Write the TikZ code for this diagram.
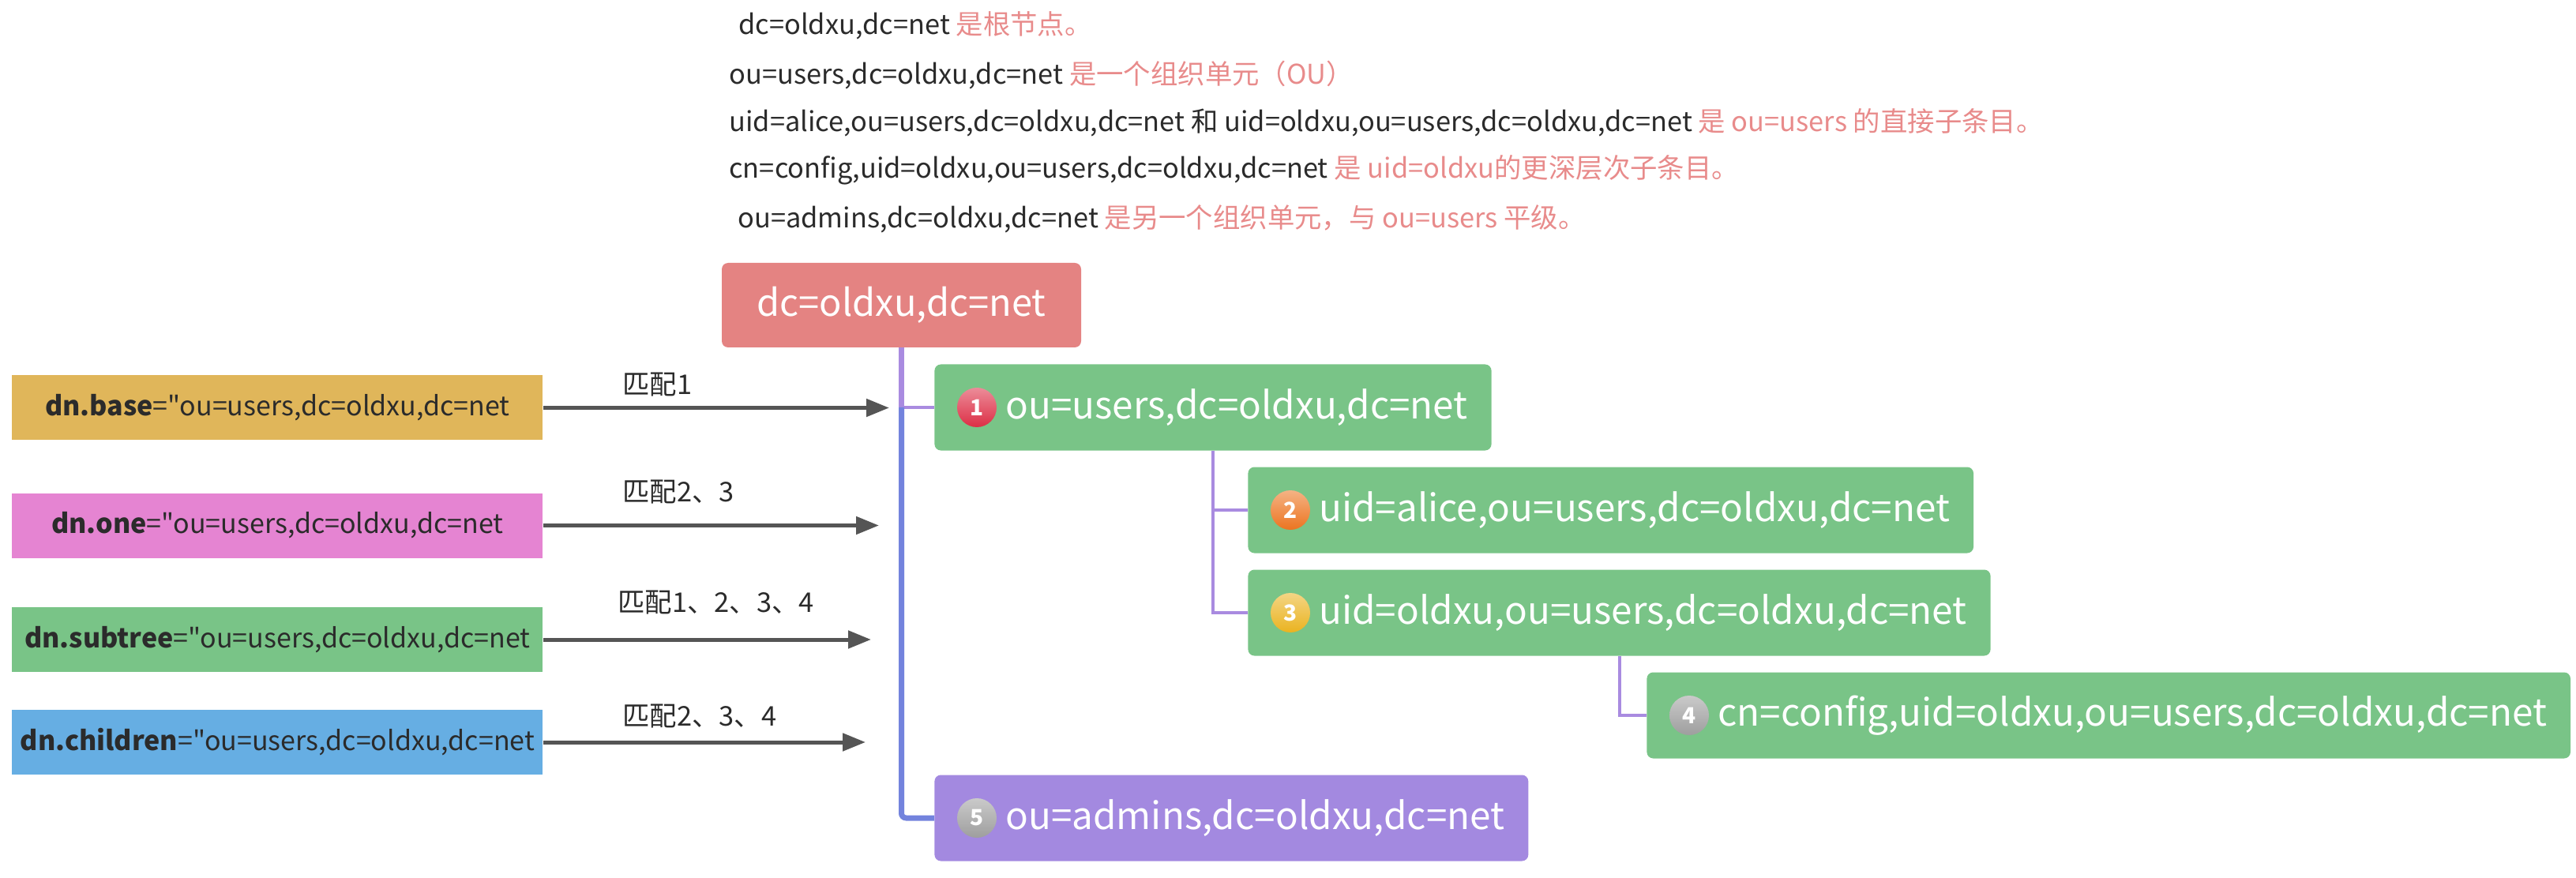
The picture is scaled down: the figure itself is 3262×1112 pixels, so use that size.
\documentclass[tikz,border=0pt]{standalone}
\usepackage{fontspec}
\setmainfont{Noto Sans CJK SC}[Ligatures=TeXOff]
\usetikzlibrary{arrows.meta}
\definecolor{rootred}{HTML}{E48382}
\definecolor{entrygreen}{HTML}{79C487}
\definecolor{adminpurple}{HTML}{A389E0}
\definecolor{basegold}{HTML}{E0B65A}
\definecolor{onepink}{HTML}{E584D2}
\definecolor{childblue}{HTML}{66AEE3}
\definecolor{notered}{HTML}{E88B8B}
\definecolor{inkgray}{HTML}{2B2B2B}
\definecolor{arrowgray}{HTML}{555555}
\definecolor{linepurple}{HTML}{A98BE0}
\definecolor{lineblue}{HTML}{7383DD}
\definecolor{badgered}{HTML}{DC2E45}
\definecolor{badgeorange}{HTML}{EC7420}
\definecolor{badgeyellow}{HTML}{EAB320}
\definecolor{badgegray}{HTML}{9E9E9E}
\begin{document}
\begin{tikzpicture}[x=0.5pt,y=-0.5pt,
  note/.style={anchor=west,inner sep=0pt,text=inkgray,font=\fontsize{17.2}{20}\selectfont},
  scopebox/.style={fill=#1,anchor=west,text=inkgray,minimum width=336pt,minimum height=41pt,inner sep=0pt,font=\fontsize{17}{21}\selectfont},
  entry/.style={fill=#1,text=white,rounded corners=4pt,anchor=west,minimum height=54.5pt,inner xsep=15pt,font=\fontsize{23.8}{28}\selectfont},
  badge/.style={circle,top color=#1!55!white,bottom color=#1,text=white,inner sep=0pt,minimum size=25pt,font=\bfseries\fontsize{14}{16}\selectfont},
  match/.style={draw=arrowgray,line width=2.5pt,-{Triangle[length=14.5pt,width=11pt]}},
  tree/.style={draw=#1,line width=3.5pt},
  branch/.style={draw=#1,line width=2pt}]
\useasboundingbox (0,0) rectangle (3262,1112);
\node[note] (n1) at (935,32) {dc=oldxu,dc=net \textcolor{notered}{是根节点。}};
\node[note] (n2) at (923,95) {ou=users,dc=oldxu,dc=net \textcolor{notered}{是一个组织单元（OU）}};
\node[note] (n3) at (923,155) {uid=alice,ou=users,dc=oldxu,dc=net 和 uid=oldxu,ou=users,dc=oldxu,dc=net \textcolor{notered}{是 ou=users 的直接子条目。}};
\node[note] (n4) at (923,215) {cn=config,uid=oldxu,ou=users,dc=oldxu,dc=net \textcolor{notered}{是 uid=oldxu的更深层次子条目。}};
\node[note] (n5) at (934,277) {ou=admins,dc=oldxu,dc=net \textcolor{notered}{是另一个组织单元，与 ou=users 平级。}};
\node[fill=rootred,text=white,rounded corners=4pt,minimum width=227.5pt,minimum height=53.5pt,font=\fontsize{23.5}{28}\selectfont] (root) at (1141.5,386.5) {dc=oldxu,dc=net};
\node[entry=entrygreen] (e1) at (1183,516) {\hspace*{30pt}ou=users,dc=oldxu,dc=net};
\node[entry=entrygreen] (e2) at (1580,646) {\hspace*{30pt}uid=alice,ou=users,dc=oldxu,dc=net};
\node[entry=entrygreen] (e3) at (1580,776) {\hspace*{30pt}uid=oldxu,ou=users,dc=oldxu,dc=net};
\node[entry=entrygreen] (e4) at (2085,906) {\hspace*{30pt}cn=config,uid=oldxu,ou=users,dc=oldxu,dc=net};
\node[entry=adminpurple] (e5) at (1183,1036) {\hspace*{30pt}ou=admins,dc=oldxu,dc=net};
\node[badge=badgered] (b1) at ([xshift=27pt]e1.west) {1};
\node[badge=badgeorange] (b2) at ([xshift=27pt]e2.west) {2};
\node[badge=badgeyellow] (b3) at ([xshift=27pt]e3.west) {3};
\node[badge=badgegray] (b4) at ([xshift=27pt]e4.west) {4};
\node[badge=badgegray] (b5) at ([xshift=27pt]e5.west) {5};
\coordinate (fork) at (root.south|-e1.west);
\draw[tree=linepurple] (root.south) -- (fork);
\draw[branch=linepurple] (fork) -- (e1.west);
\draw[tree=lineblue,rounded corners=3pt] (fork) |- (e5.west);
\draw[branch=linepurple] (e1.south) |- (e2.west);
\draw[branch=linepurple] (e1.south) |- (e3.west);
\draw[branch=linepurple] (e3.south) |- (e4.west);
\node[scopebox=basegold] (base) at (15,516.5) {\textbf{dn.base}="ou=users,dc=oldxu,dc=net};
\node[scopebox=onepink] (one) at (15,665.5) {\textbf{dn.one}="ou=users,dc=oldxu,dc=net};
\node[scopebox=entrygreen] (subtree) at (15,810) {\textbf{dn.subtree}="ou=users,dc=oldxu,dc=net};
\node[scopebox=childblue] (children) at (15,940) {\textbf{dn.children}="ou=users,dc=oldxu,dc=net};
\coordinate (hit1) at (1126,516.5);
\coordinate (hit2) at (1113,665.5);
\coordinate (hit3) at (1103,810);
\coordinate (hit4) at (1096,940);
\draw[match] (base.east) -- (hit1);
\draw[match] (one.east) -- (hit2);
\draw[match] (subtree.east) -- (hit3);
\draw[match] (children.east) -- (hit4);
\node[note] (m1) at (788,487) {匹配1};
\node[note] (m2) at (788,623) {匹配2、3};
\node[note] (m3) at (782,763) {匹配1、2、3、4};
\node[note] (m4) at (788,907) {匹配2、3、4};
\end{tikzpicture}
\end{document}
